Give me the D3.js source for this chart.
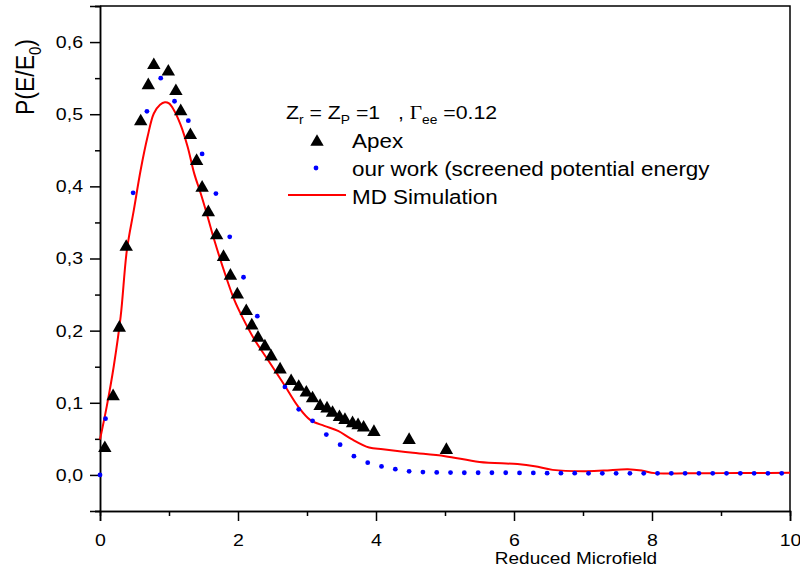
<!DOCTYPE html>
<html lang="en">

<head>
  <meta charset="UTF-8">
  <script src="https://cdnjs.cloudflare.com/ajax/libs/d3/7.8.5/d3.min.js"></script>
  <title>Reduced microfield distribution</title>
  <style>
    body { margin: 0; background: #fff; }
    text { font-family: "Liberation Sans", Arial, sans-serif; white-space: pre; }
  </style>
</head>

<body>
  <div id="chart"></div>
  <script>
    // Apex (triangles)
    const apexX = [0.07, 0.19, 0.28, 0.38, 0.59, 0.70, 0.78, 0.99, 1.10, 1.17, 1.31, 1.40, 1.48, 1.57, 1.69,
      1.79, 1.89, 1.99, 2.12, 2.20, 2.29, 2.39, 2.48, 2.61, 2.77, 2.88, 2.99, 3.08, 3.19, 3.29, 3.37, 3.47,
      3.55, 3.66, 3.74, 3.82, 3.97, 4.48, 5.02];
    const apexY = [0.037, 0.109, 0.204, 0.316, 0.490, 0.540, 0.568, 0.559, 0.532, 0.504, 0.471, 0.435, 0.398,
      0.364, 0.332, 0.302, 0.276, 0.250, 0.227, 0.207, 0.190, 0.178, 0.164, 0.146, 0.130, 0.122, 0.114, 0.106,
      0.0955, 0.092, 0.086, 0.080, 0.076, 0.0715, 0.0687, 0.0655, 0.0595, 0.0484, 0.0345];

    // our work (screened potential energy) - blue dots
    const oursX = [0, 0.08, 0.28, 0.48, 0.68, 0.88, 1.08, 1.28, 1.48, 1.68, 1.88, 2.08, 2.28, 2.48, 2.68, 2.88,
      3.08, 3.28, 3.48, 3.68, 3.88, 4.08, 4.28, 4.48, 4.68, 4.88, 5.08, 5.28, 5.48, 5.68, 5.88, 6.08, 6.28,
      6.48, 6.68, 6.88, 7.08, 7.28, 7.48, 7.68, 7.88, 8.08, 8.28, 8.48, 8.68, 8.88, 9.08, 9.28, 9.48, 9.68, 9.88];
    const oursY = [0.0, 0.078, 0.207, 0.391, 0.504, 0.550, 0.518, 0.491, 0.445, 0.390, 0.330, 0.274, 0.220,
      0.165, 0.122, 0.091, 0.075, 0.056, 0.042, 0.026, 0.017, 0.0118, 0.008, 0.005, 0.004, 0.0035, 0.0033,
      0.003, 0.003, 0.003, 0.003, 0.0028, 0.0028, 0.0025, 0.0025, 0.0025, 0.0022, 0.0022, 0.0022, 0.0022,
      0.0022, 0.0022, 0.0022, 0.0022, 0.0022, 0.0022, 0.0022, 0.0022, 0.0022, 0.0022, 0.0022];

    // MD Simulation - red line
    const mdX = [0, 0.1, 0.2, 0.3, 0.39, 0.49, 0.59, 0.69, 0.78, 0.87, 0.94, 1.0, 1.07, 1.17, 1.27, 1.365,
      1.46, 1.56, 1.655, 1.825, 1.945, 2.067, 2.236, 2.43, 2.67, 2.87, 3.05, 3.25, 3.45, 3.64, 3.9, 4.1,
      4.5, 5.0, 5.5, 6.05, 6.3, 6.56, 7.0, 7.3, 7.65, 7.85, 8.04, 8.5, 9.0, 9.5, 10];
    const mdY = [0.049, 0.096, 0.151, 0.22, 0.312, 0.367, 0.423, 0.469, 0.501, 0.513, 0.5165, 0.515, 0.506,
      0.485, 0.455, 0.418, 0.39, 0.358, 0.326, 0.275, 0.243, 0.218, 0.188, 0.160, 0.125, 0.095, 0.076, 0.068,
      0.061, 0.050, 0.038, 0.0355, 0.031, 0.026, 0.018, 0.015, 0.012, 0.007, 0.005, 0.006, 0.0078, 0.006,
      0.0025, 0.0022, 0.0025, 0.0027, 0.003];

    const xTicks = [0, 2, 4, 6, 8, 10];
    const xMinor = [1, 3, 5, 7, 9];
    const yTicks = [0, 0.1, 0.2, 0.3, 0.4, 0.5, 0.6];
    const yMinor = [-0.05, 0.05, 0.15, 0.25, 0.35, 0.45, 0.55, 0.65];

    const W = 800, H = 571;
    const pl = 100, pr = 790, pt = 6, pb = 511;
    const sx = 1.15; // the original text is a bit wide

    const svg = d3.select('#chart')
      .append('svg')
      .attr('width', W)
      .attr('height', H);

    const x = d3.scaleLinear().domain([0, 10]).range([pl, pr]);
    const y = d3.scaleLinear().domain([-0.05, 0.65]).range([pb, pt]);

    // frame (top + right)
    svg.append('path')
      .attr('d', `M${pl},${pt}H${pr}V${pb}`)
      .attr('fill', 'none')
      .attr('stroke', '#000')
      .attr('stroke-width', 1.5);

    const fmt = d => d3.format('.1f')(d).replace('.', ',');

    function styleAxis(g) {
      g.select('.domain').attr('stroke-width', 1.5);
      g.selectAll('.tick line').attr('stroke-width', 1.5);
      g.selectAll('text')
        .style('font-family', '"Liberation Sans", Arial, sans-serif')
        .style('font-size', '17px').attr('fill', '#000')
        .attr('x', function () { return (+this.getAttribute('x') || 0) / sx; })
        .attr('transform', `scale(${sx},1)`);
    }

    svg.append('g')
      .attr('transform', `translate(0,${pb})`)
      .call(d3.axisBottom(x).tickValues(xMinor).tickSize(5).tickFormat(''))
      .call(styleAxis);
    svg.append('g')
      .attr('transform', `translate(0,${pb})`)
      .call(d3.axisBottom(x).tickValues(xTicks).tickSize(10).tickPadding(13).tickFormat(d3.format('d')))
      .call(styleAxis);

    svg.append('g')
      .attr('transform', `translate(${pl},0)`)
      .call(d3.axisLeft(y).tickValues(yMinor).tickSize(5).tickFormat(''))
      .call(styleAxis);
    svg.append('g')
      .attr('transform', `translate(${pl},0)`)
      .call(d3.axisLeft(y).tickValues(yTicks).tickSize(10).tickPadding(7).tickFormat(fmt))
      .call(styleAxis);

    // axis titles
    svg.append('text')
      .attr('transform', `translate(576,564) scale(${sx},1)`)
      .attr('text-anchor', 'middle')
      .style('font-size', '16.5px')
      .text('Reduced Microfield');

    const yl = svg.append('text')
      .attr('transform', `translate(34,77) rotate(-90) scale(1,${sx})`)
      .attr('text-anchor', 'middle')
      .style('font-size', '23px');
    yl.append('tspan').text('P(E/E');
    yl.append('tspan').attr('dy', 6).style('font-size', '15px').text('0');
    yl.append('tspan').attr('dy', -6).text(')');

    // MD simulation line
    const line = d3.line()
      .x((d, i) => x(mdX[i]))
      .y((d, i) => y(mdY[i]))
      .curve(d3.curveCatmullRom.alpha(0.5));
    svg.append('path')
      .datum(mdX)
      .attr('d', line)
      .attr('fill', 'none')
      .attr('stroke', '#ff0000')
      .attr('stroke-width', 2);

    // our work dots
    svg.append('g').selectAll('circle')
      .data(oursX)
      .join('circle')
      .attr('cx', d => x(d))
      .attr('cy', (d, i) => y(oursY[i]))
      .attr('r', 2.4)
      .attr('fill', '#0000ff');

    // Apex triangles
    const tri = d3.symbol().type(d3.symbolTriangle).size(78);
    svg.append('g').selectAll('path')
      .data(apexX)
      .join('path')
      .attr('d', tri)
      .attr('transform', (d, i) => `translate(${x(d)},${y(apexY[i])})`)
      .attr('fill', '#000');

    // legend
    const t1 = svg.append('text')
      .attr('transform', `translate(286,119) scale(${sx},1)`)
      .style('font-size', '18.5px');
    t1.append('tspan').text('Z');
    t1.append('tspan').attr('dy', 5).style('font-size', '12px').text('r');
    t1.append('tspan').attr('dy', -5).text(' = Z');
    t1.append('tspan').attr('dy', 5).style('font-size', '12px').text('P');
    t1.append('tspan').attr('dy', -5).text(' =1   , ');
    t1.append('tspan').style('font-family', '"Liberation Serif", "Times New Roman", serif').text('\u0393');
    t1.append('tspan').attr('dy', 5).style('font-size', '12px').text('ee');
    t1.append('tspan').attr('dy', -5).text(' =0.12');

    svg.append('path').attr('d', tri).attr('transform', 'translate(317,142)').attr('fill', '#000');
    svg.append('circle').attr('cx', 316).attr('cy', 168).attr('r', 2.4).attr('fill', '#0000ff');
    svg.append('line').attr('x1', 288).attr('x2', 346).attr('y1', 195).attr('y2', 195)
      .attr('stroke', '#ff0000').attr('stroke-width', 2);

    const labels = ['Apex', 'our work (screened potential energy', 'MD Simulation'];
    svg.selectAll('text.lab')
      .data(labels)
      .join('text')
      .attr('class', 'lab')
      .attr('transform', (d, i) => `translate(352,${148 + i * 28}) scale(${sx},1)`)
      .style('font-size', '19.5px')
      .text(d => d);
  </script>
</body>

</html>
